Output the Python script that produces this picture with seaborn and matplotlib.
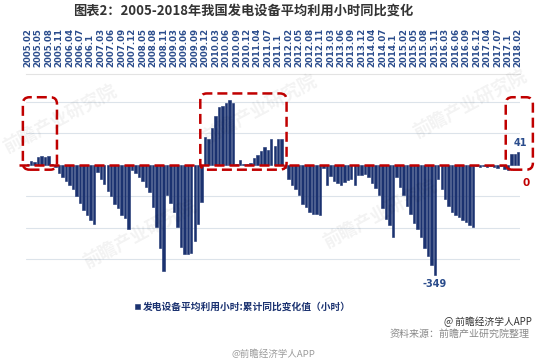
import numpy as np
import pandas as pd
import seaborn as sns
import matplotlib.pyplot as plt
from matplotlib.patches import FancyBboxPatch

# 月度累计同比变化值（小时），从原图读取的估计值
values = [4, 13, 10, 24, 28, 26, 29, 3, -5,
          -27, -37, -50, -64, -76, -97, -122, -144, -160, -174, -186,
          -21, -43, -59, -84, -97, -124, -138, -158, -167, -204,
          -16, -25, -38, -50, -70, -85, -132, -196, -265, -335,
          -95, -122, -150, -196, -260, -282, -284, -280, -242, -188, -118,
          88, 81, 116, 156, 185, 188, 197, 207, 196,
          3, 16, 3, 2, 5, 21, 32, 45, 56, 48, 81, 59, 81, 81,
          -11, -43, -65, -75, -95, -124, -134, -150, -156, -157, -158,
          -11, -64, -35, -50, -58, -64, -55, -48, -43, -64, -32, -32, -30,
          -37, -58, -74, -96, -138, -170, -191, -229,
          -38, -70, -95, -130, -155, -183, -204, -230, -263, -290, -318, -349,
          -43, -75, -107, -130, -148, -160, -165, -175, -182, -190, -197,
          -3, -5, -2, -8, -4, -6, -10, -3, -12, -16,
          34, 36, 41]

tick_labels = ['2005.02', '2005.05', '2005.08', '2005.11', '2006.04', '2006.07', '2006.1',
               '2007.03', '2007.06', '2007.09', '2007.12', '2008.05', '2008.08', '2008.11',
               '2009.03', '2009.06', '2009.09', '2009.12', '2010.03', '2010.06', '2010.09',
               '2010.12', '2011.04', '2011.07', '2011.1', '2012.02', '2012.05', '2012.08',
               '2012.11', '2013.03', '2013.06', '2013.09', '2013.12', '2014.04', '2014.07',
               '2014.1', '2015.02', '2015.05', '2015.08', '2015.11', '2016.03', '2016.06',
               '2016.09', '2016.12', '2017.04', '2017.07', '2017.1', '2018.02']

# 红框圈出的区间（柱子序号，左右留白）
highlight_ranges = [(0, 7, 1.4, 1.4), (51, 73, 1.4, 1.4), (139, 141, 1.6, 4.2)]

title = '图表2：2005-2018年我国发电设备平均利用小时同比变化'
legend_label = '发电设备平均利用小时:累计同比变化值（小时）'

navy = '#1B3270'
red = '#C00000'

sns.set_style('white')
plt.rcParams['font.family'] = ['Noto Sans CJK SC', 'DejaVu Sans']
plt.rcParams['axes.unicode_minus'] = False

df = pd.DataFrame({'pos': range(len(values)), 'value': values})

fig = plt.figure(figsize=(5.5, 3.63), dpi=100)
ax = fig.add_axes([26 / 550, 1 - 291 / 363, 494 / 550, 217.4 / 363])

sns.barplot(data=df, x='pos', y='value', color=navy, saturation=1, width=0.7,
            edgecolor=navy, linewidth=0.4, ax=ax, label=legend_label, legend=False)
if ax.get_legend() is not None:
    ax.get_legend().remove()

ax.set_xlim(-0.5, len(values) - 0.5)
ax.set_ylim(-400, 290)
ax.set_yticks([-300, -200, -100, 100, 200])
ax.yaxis.grid(True, color='#DCE3EA', lw=0.8)
ax.set_axisbelow(True)
ax.tick_params(axis='y', left=False, labelleft=False)
ax.set_xlabel('')
ax.set_ylabel('')

ax.xaxis.tick_top()
ax.set_xticks(range(0, len(values), 3))
ax.set_xticklabels(tick_labels, rotation=90, fontsize=6.2, fontweight='bold',
                   color='#2A4C8C', family='DejaVu Sans')
ax.tick_params(axis='x', top=False, bottom=False, pad=1.5)
for s in ['left', 'right', 'bottom']:
    ax.spines[s].set_visible(False)
ax.spines['top'].set_color('#E3E3E3')
ax.spines['top'].set_linewidth(0.8)

# 零线（红色虚线）
ax.plot([-2.5, 137.6], [0, 0], color=red, lw=1.8, ls=(0, (4, 2)), clip_on=False, zorder=3)

# 红色虚线圆角框
px_x = 494 / len(values)
px_y = 217.4 / 690
for a, b, lpad, rpad in highlight_ranges:
    top = max(max(values[a:b + 1]) + 20, 215)
    x0 = a - lpad
    x1 = b + rpad
    y0 = -15
    box = FancyBboxPatch((x0, y0), x1 - x0, top - y0,
                         boxstyle='round,pad=0,rounding_size=1.9',
                         mutation_aspect=px_x / px_y,
                         fill=False, ec=red, lw=1.8, ls=(0, (4, 2)),
                         clip_on=False, zorder=4)
    ax.add_patch(box)

# 数值标注
last = len(values) - 1
ax.text(last + 0.5, values[last] + 12, str(values[last]), ha='center', va='bottom',
        fontsize=7, fontweight='bold', color='#2A4C8C', family='DejaVu Sans')
ax.text(last + 2.3, -40, '0', ha='center', va='top',
        fontsize=7.5, fontweight='bold', color=red, family='DejaVu Sans')
imin = int(np.argmin(values))
ax.text(imin, values[imin] - 12, str(values[imin]), ha='center', va='top',
        fontsize=7, fontweight='bold', color='#2A4C8C', family='DejaVu Sans')

# 图例
handles, labels = ax.get_legend_handles_labels()
fig.legend(handles[:1], labels[:1], loc='center left',
           bbox_to_anchor=(126 / 550, 1 - 307 / 363),
           frameon=False, handlelength=0.55, handleheight=0.55,
           handletextpad=0.25, prop={'size': 7, 'weight': 'bold'},
           labelcolor=navy)

# 标题与来源
fig.text(243 / 550, 1 - 11 / 363, title, ha='center', va='center',
         fontsize=9.5, fontweight='bold', color='#333333')
fig.text(532 / 550, 1 - 322 / 363, '@ 前瞻经济学人APP', ha='right', va='center',
         fontsize=7, color='#333333')
fig.text(530 / 550, 1 - 334 / 363, '资料来源：前瞻产业研究院整理', ha='right', va='center',
         fontsize=7.2, color='#8A8A8A', style='italic')
fig.text(273 / 550, 1 - 354 / 363, '@前瞻经济学人APP', ha='center', va='center',
         fontsize=6.8, color='#9A9A9A')

# 水印
for (wx, wy) in [(60, 120), (260, 110), (140, 235), (470, 105), (380, 215)]:
    fig.text(wx / 550, 1 - wy / 363, '前瞻产业研究院', rotation=28, ha='center', va='center',
             fontsize=13, fontweight='bold', color='#000000', alpha=0.05)

fig.savefig('out.png', dpi=100)
